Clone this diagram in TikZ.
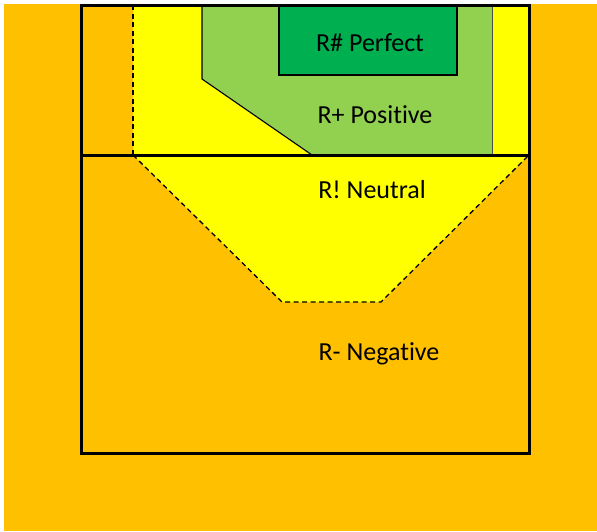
\documentclass[tikz,border=0pt]{standalone}
\usepackage{fontspec}
\setmainfont[Ligatures=NoCommon]{Carlito}
\definecolor{bgorange}{HTML}{FFC000}
\definecolor{zyellow}{HTML}{FFFF00}
\definecolor{lgreen}{HTML}{92D050}
\definecolor{dgreen}{HTML}{00B050}
\tikzset{
  thickline/.style={line width=3pt, draw=black},
  thinline/.style={line width=1.1pt, draw=black},
  dashline/.style={line width=1.3pt, draw=black, dash pattern=on 5pt off 3.5pt},
  lab/.style={font=\fontsize{26}{31}\selectfont, text=black, inner sep=0pt}
}
\begin{document}
\begin{tikzpicture}[x=1pt,y=-1pt]
\useasboundingbox (0,0) rectangle (597,531);
\fill[white] (0,0) rectangle (597,531);
\fill[bgorange] (4,4) rectangle (597,531);
% upper yellow band
\fill[zyellow] (133,5) rectangle (529,155);
% light green region
\fill[lgreen] (202,5) -- (202,79) -- (312,155) -- (492,155) -- (492,5) -- cycle;
\draw[thinline] (202,5) -- (202,79) -- (312,155);
\draw[line width=1pt, draw=black!70] (492,5) -- (492,155);
% dark green box
\draw[thinline, fill=dgreen] (279,5) rectangle (457,75);
% lower yellow trapezoid
\fill[zyellow] (133,155) -- (282,302) -- (381,302) -- (529,155) -- cycle;
\draw[dashline] (133,155) -- (282,302) -- (381,302) -- (529,155);
\draw[dashline] (133,5) -- (133,155);
% frame
\draw[thickline] (81,5) rectangle (529,453);
\draw[thickline] (81,155) -- (529,155);
% labels
\node[lab] (perfect) at (370,43) {R\# Perfect};
\node[lab] (positive) at (375,115) {R+ Positive};
\node[lab] (neutral) at (372,190) {R! Neutral};
\node[lab] (negative) at (379,354) {R- Negative};
\end{tikzpicture}
\end{document}
